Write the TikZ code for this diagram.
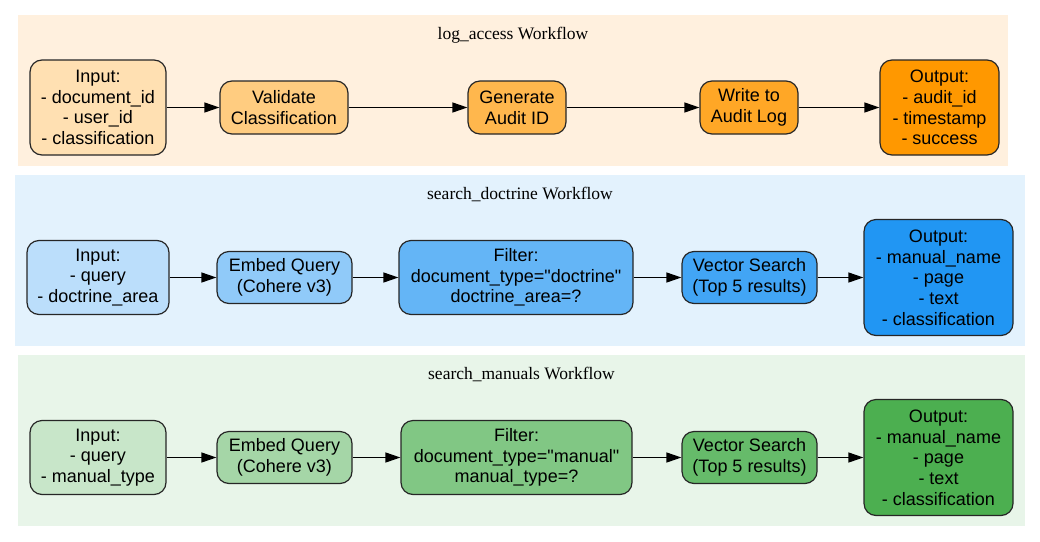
\documentclass[tikz,border=0pt]{standalone}
\usepackage{fontspec}
\setmainfont{Liberation Sans}[Ligatures=TeXOff]
\newfontfamily\titlefont{Liberation Serif}
\usetikzlibrary{arrows.meta}
\definecolor{bgA}{HTML}{FFF0DE}
\definecolor{bgB}{HTML}{E3F2FD}
\definecolor{bgC}{HTML}{E8F5E9}
\definecolor{oA}{HTML}{FFE0B2}
\definecolor{oB}{HTML}{FFCC80}
\definecolor{oC}{HTML}{FFB74D}
\definecolor{oD}{HTML}{FFA726}
\definecolor{oE}{HTML}{FF9800}
\definecolor{bA}{HTML}{BBDEFB}
\definecolor{bB}{HTML}{90CAF9}
\definecolor{bC}{HTML}{64B5F6}
\definecolor{bD}{HTML}{42A5F5}
\definecolor{bE}{HTML}{2196F3}
\definecolor{gA}{HTML}{C8E6C9}
\definecolor{gB}{HTML}{A5D6A7}
\definecolor{gC}{HTML}{81C784}
\definecolor{gD}{HTML}{66BB6A}
\definecolor{gE}{HTML}{4CAF50}
\tikzset{
  box/.style={draw=black!85, line width=1.2pt, rounded corners=12pt, inner sep=0pt,
    align=center, font=\fontsize{18}{20.7}\selectfont},
  title/.style={anchor=base, inner sep=0pt, font=\titlefont\fontsize{17.5}{20}\selectfont},
  arr/.style={-{Triangle[length=15pt,width=10pt]}, line width=1.2pt, black}
}
\begin{document}
\begin{tikzpicture}[x=1pt,y=-1pt]
\useasboundingbox (0,0) rectangle (1040,541);
% clusters
\fill[bgA] (18,15) rectangle (1008,166);
\fill[bgB] (15,175) rectangle (1025,346);
\fill[bgC] (18,355) rectangle (1025,526);
\node[title] (t1) at (513,39) {log\_access Workflow};
\node[title] (t2) at (520,199) {search\_doctrine Workflow};
\node[title] (t3) at (521.5,379) {search\_manuals Workflow};
% row 1
\node[box, fill=oA, minimum width=136pt, minimum height=95pt] (in1) at (98,107.5) {Input:\\- document\_id\\- user\_id\\- classification};
\node[box, fill=oB, minimum width=128pt, minimum height=53pt] (val) at (284,107.5) {Validate\\Classification};
\node[box, fill=oC, minimum width=98pt, minimum height=53pt] (gen) at (517,107.5) {Generate\\Audit ID};
\node[box, fill=oD, minimum width=98pt, minimum height=53pt] (wri) at (749,107.5) {Write to\\Audit Log};
\node[box, fill=oE, minimum width=119pt, minimum height=95pt] (out1) at (939.5,107.5) {Output:\\- audit\_id\\- timestamp\\- success};
\draw[arr] (in1) -- (val);
\draw[arr] (val) -- (gen);
\draw[arr] (gen) -- (wri);
\draw[arr] (wri) -- (out1);
% row 2
\node[box, fill=bA, minimum width=142pt, minimum height=74pt] (in2) at (98,277.5) {Input:\\- query\\- doctrine\_area};
\node[box, fill=bB, minimum width=135pt, minimum height=52pt] (emb2) at (284.5,277.5) {Embed Query\\(Cohere v3)};
\node[box, fill=bC, minimum width=234pt, minimum height=74pt] (fil2) at (516,277.5) {Filter:\\document\_type="doctrine"\\doctrine\_area=?};
\node[box, fill=bD, minimum width=135pt, minimum height=52pt] (vec2) at (749.5,277.5) {Vector Search\\(Top 5 results)};
\node[box, fill=bE, minimum width=149pt, minimum height=116pt] (out2) at (938.5,277.5) {Output:\\- manual\_name\\- page\\- text\\- classification};
\draw[arr] (in2) -- (emb2);
\draw[arr] (emb2) -- (fil2);
\draw[arr] (fil2) -- (vec2);
\draw[arr] (vec2) -- (out2);
% row 3
\node[box, fill=gA, minimum width=136pt, minimum height=74pt] (in3) at (98,457.5) {Input:\\- query\\- manual\_type};
\node[box, fill=gB, minimum width=135pt, minimum height=52pt] (emb3) at (284.5,457.5) {Embed Query\\(Cohere v3)};
\node[box, fill=gC, minimum width=231pt, minimum height=74pt] (fil3) at (516.5,457.5) {Filter:\\document\_type="manual"\\manual\_type=?};
\node[box, fill=gD, minimum width=135pt, minimum height=52pt] (vec3) at (749.5,457.5) {Vector Search\\(Top 5 results)};
\node[box, fill=gE, minimum width=149pt, minimum height=116pt] (out3) at (938.5,457.5) {Output:\\- manual\_name\\- page\\- text\\- classification};
\draw[arr] (in3) -- (emb3);
\draw[arr] (emb3) -- (fil3);
\draw[arr] (fil3) -- (vec3);
\draw[arr] (vec3) -- (out3);
\end{tikzpicture}
\end{document}
